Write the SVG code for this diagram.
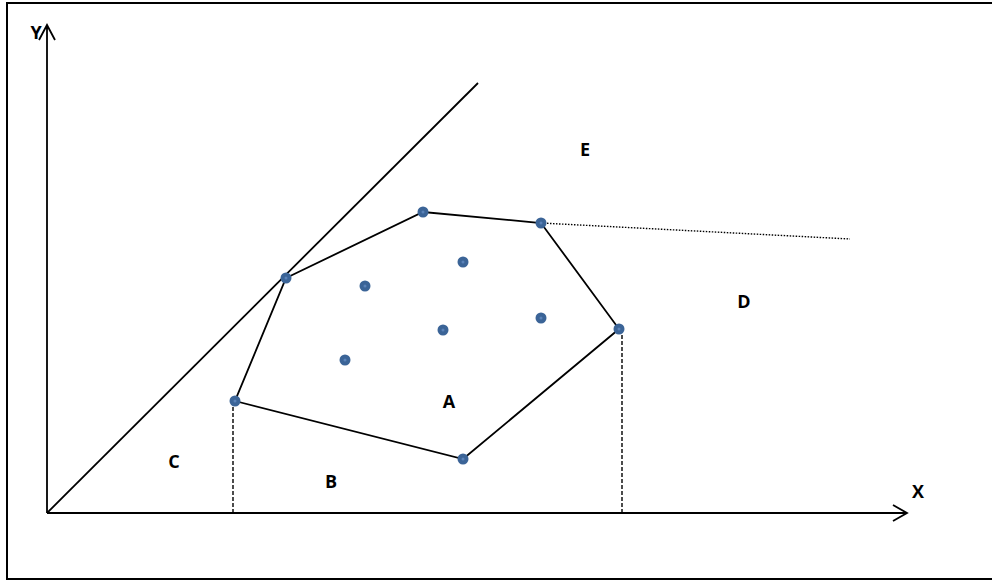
<svg xmlns="http://www.w3.org/2000/svg" width="992" height="581" viewBox="0 0 992 581">
<style>
.ln{stroke:#000;stroke-width:1.8;fill:none}
.dash{stroke:#000;stroke-width:1.4;fill:none;stroke-dasharray:4 2}
.dot{stroke:#000;stroke-width:1.4;fill:none;stroke-dasharray:1.5 1.5}
.pt{fill:#3b6497}
.ctr{fill:#5a82b8}
.lbl{font-family:"Open Sans","Liberation Sans",Arial,sans-serif;font-weight:bold;font-size:18px;fill:#000;text-anchor:middle}
</style>
<rect x="7" y="3" width="990" height="576" fill="#fff" stroke="#000" stroke-width="2"/>
<g id="connectors">
<path class="ln" d="M47,513 V25 M39,40 L47,25 L55,40"/>
<path class="ln" d="M47,513 H907 M893,505 L907,513 L893,521"/>
<path class="ln" d="M47,513 L478,83"/>
<polygon class="ln" points="286,278 423,212 541,223 619,329 463,459 235,401"/>
<path class="dash" d="M233,401 V513"/>
<path class="dash" d="M622,329 V513"/>
<path class="dot" d="M541,223 L850,239"/>
</g>
<g id="points">
<g id="p1"><circle class="pt" cx="286" cy="278" r="5.5"/><circle class="ctr" cx="286" cy="278" r="1.5"/></g>
<g id="p2"><circle class="pt" cx="423" cy="212" r="5.5"/><circle class="ctr" cx="423" cy="212" r="1.5"/></g>
<g id="p3"><circle class="pt" cx="541" cy="223" r="5.5"/><circle class="ctr" cx="541" cy="223" r="1.5"/></g>
<g id="p4"><circle class="pt" cx="619" cy="329" r="5.5"/><circle class="ctr" cx="619" cy="329" r="1.5"/></g>
<g id="p5"><circle class="pt" cx="463" cy="459" r="5.5"/><circle class="ctr" cx="463" cy="459" r="1.5"/></g>
<g id="p6"><circle class="pt" cx="235" cy="401" r="5.5"/><circle class="ctr" cx="235" cy="401" r="1.5"/></g>
<g id="i1"><circle class="pt" cx="365" cy="286" r="5.5"/><circle class="ctr" cx="365" cy="286" r="1.5"/></g>
<g id="i2"><circle class="pt" cx="463" cy="262" r="5.5"/><circle class="ctr" cx="463" cy="262" r="1.5"/></g>
<g id="i3"><circle class="pt" cx="443" cy="330" r="5.5"/><circle class="ctr" cx="443" cy="330" r="1.5"/></g>
<g id="i4"><circle class="pt" cx="541" cy="318" r="5.5"/><circle class="ctr" cx="541" cy="318" r="1.5"/></g>
<g id="i5"><circle class="pt" cx="345" cy="360" r="5.5"/><circle class="ctr" cx="345" cy="360" r="1.5"/></g>
</g>
<g id="labels">
<text class="lbl" x="36" y="39">Y</text>
<text class="lbl" x="918" y="498">X</text>
<text class="lbl" x="449" y="408">A</text>
<text class="lbl" x="331" y="488">B</text>
<text class="lbl" x="174" y="468">C</text>
<text class="lbl" x="744" y="308">D</text>
<text class="lbl" x="585" y="156">E</text>
</g>
</svg>
